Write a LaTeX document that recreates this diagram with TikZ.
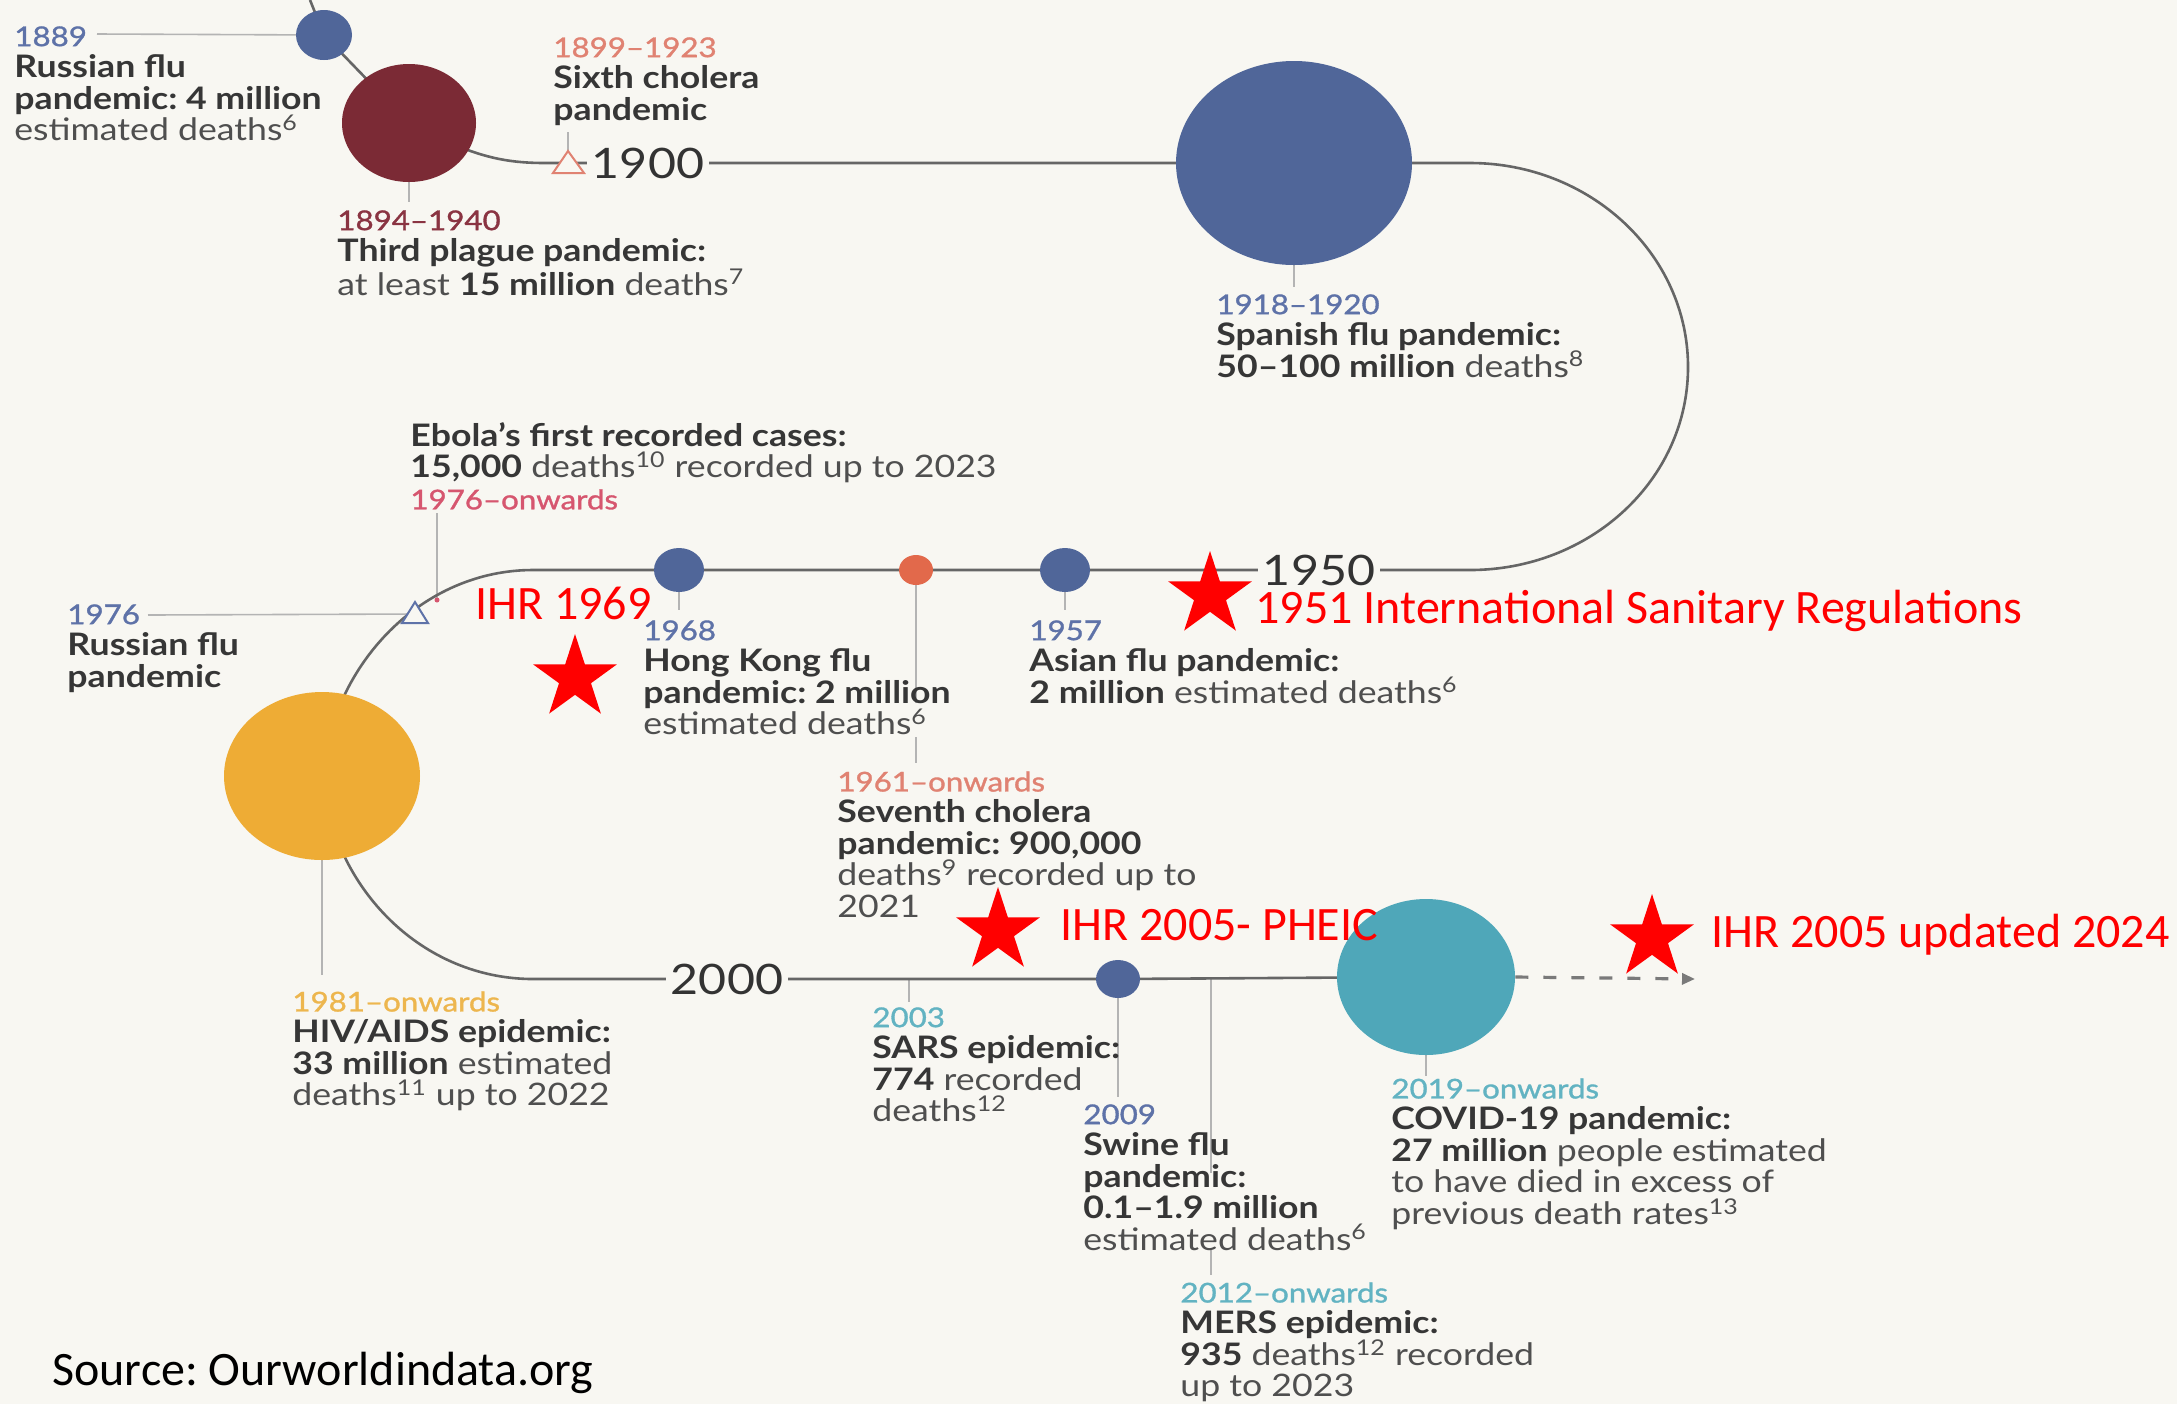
\documentclass[tikz,border=0pt]{standalone}
\usepackage{fontspec}
\setmainfont{Lato}[FakeStretch=1.15]
\newfontfamily\yrfont{Lato}[FakeStretch=1.15, FakeBold=1.2]
\newfontfamily\calfont{Carlito}
\usetikzlibrary{shapes.geometric,arrows.meta}
\pgfdeclarelayer{back}
\pgfdeclarelayer{bg}
\pgfsetlayers{back,bg,main}
\definecolor{bgC}{HTML}{F8F7F2}
\definecolor{lineC}{HTML}{666666}
\definecolor{stemC}{HTML}{B4B4B4}
\definecolor{txtC}{HTML}{4F4F4F}
\definecolor{boldC}{HTML}{363636}
\definecolor{yearC}{HTML}{333333}
\definecolor{blueT}{HTML}{5E72A8}
\definecolor{plagueT}{HTML}{8A3442}
\definecolor{salmonT}{HTML}{E08272}
\definecolor{pinkT}{HTML}{D6566F}
\definecolor{yellowT}{HTML}{EDB64E}
\definecolor{tealT}{HTML}{62B3C2}
\definecolor{blueC}{HTML}{506699}
\definecolor{plagueC}{HTML}{7B2A35}
\definecolor{choleraC}{HTML}{E2694B}
\definecolor{hivC}{HTML}{EEAC35}
\definecolor{covidC}{HTML}{4FA7B9}
\definecolor{starC}{HTML}{FF0000}
\definecolor{dashC}{HTML}{7A7A7A}
\frenchspacing
\newcommand{\yr}[2]{{\color{#1}\yrfont\fontsize{13.6}{15.75}\selectfont #2}}
\newcommand{\bt}[1]{{\color{boldC}\bfseries #1}}
\newcommand{\sups}[1]{\textsuperscript{#1}}
\tikzset{
 tl/.style={draw=lineC, line width=1.3pt},
 stemline/.style={draw=stemC, line width=0.8pt},
 blob/.style={ellipse, inner sep=0pt, draw=none},
 lab/.style={anchor=north west, inner sep=0pt, align=left, font=\fontsize{15.5}{15.75}\selectfont, text=txtC},
 bigyear/.style={font=\fontsize{21}{21}\selectfont, text=yearC, fill=bgC, inner xsep=2.5pt, inner ysep=0pt},
 redstar/.style={star, star points=5, star point ratio=2.618, fill=starC, draw=none, inner sep=0pt, minimum size=44pt},
 redtext/.style={anchor=base west, inner sep=0pt, text=starC, font=\calfont\fontsize{24}{28}\selectfont},
 tri/.style={fill=bgC, line width=1pt, line join=miter},
}
\begin{document}
\begin{tikzpicture}[x=0.5pt, y=-0.5pt]
\begin{pgfonlayer}{back}
\fill[bgC] (0,0) rectangle (2177,1404);
\end{pgfonlayer}
\useasboundingbox (0,0) rectangle (2177,1404);

% circles
\node[blob, fill=blueC, minimum width=28pt, minimum height=25pt] (c1889) at (324,35) {};
\node[blob, fill=plagueC, minimum width=67pt, minimum height=59pt] (plague) at (409,123) {};
\node[blob, fill=blueC, minimum width=118pt, minimum height=102pt] (spanish) at (1294,163) {};
\node[blob, fill=blueC, minimum width=25pt, minimum height=22pt] (hk) at (679,570) {};
\node[blob, fill=choleraC, minimum width=17pt, minimum height=15pt] (ch7) at (916,570) {};
\node[blob, fill=blueC, minimum width=25pt, minimum height=22pt] (asian) at (1065,570) {};
\node[blob, fill=hivC, minimum width=98pt, minimum height=84pt] (hiv) at (322,776) {};
\node[blob, fill=blueC, minimum width=22pt, minimum height=19pt] (swine) at (1118,979) {};
\node[blob, fill=covidC, minimum width=89pt, minimum height=78pt] (covid) at (1426,977) {};

% big years
\node[bigyear] (y1900) at (648,163) {1900};
\node[bigyear] (y1950) at (1319,570) {1950};
\node[bigyear] (y2000) at (727,979) {2000};

% coordinates
\coordinate (t0) at (310,0);
\coordinate (t1900) at (568,163);
\coordinate (t1976) at (415,614);
\coordinate (ebolaDot) at (437,600);
\coordinate (arrowEnd) at (1695,979);

% triangles
\draw[tri, draw=salmonT] (t1900) ++(-15,10) -- ++(31,0) -- ++(-16,-22) -- cycle;
\draw[tri, draw=blueT] (t1976) ++(-13,9) -- ++(26,0) -- ++(-13,-21) -- cycle;

% labels
\node[lab] (L1889) at (14,26) {\yr{blueT}{1889}\\ \bt{Russian flu}\\ \bt{pandemic: 4 million}\\ estimated deaths\sups{6}};
\node[lab] (L1894) at (337,210) {\yr{plagueT}{1894–1940}\\ \bt{Third plague pandemic:}\\ at least \bt{15 million} deaths\sups{7}};
\node[lab] (L1899) at (553,37) {\yr{salmonT}{1899–1923}\\ \bt{Sixth cholera}\\ \bt{pandemic}};
\node[lab] (L1918) at (1216,294) {\yr{blueT}{1918–1920}\\ \bt{Spanish flu pandemic:}\\ \bt{50–100 million} deaths\sups{8}};
\node[lab] (Lebola) at (410,422) {\bt{Ebola’s first recorded cases:}\\ \bt{15,000} deaths\sups{10} recorded up to 2023\\ \yr{pinkT}{1976–onwards}};
\node[lab] (L1976) at (67,604) {\yr{blueT}{1976}\\ \bt{Russian flu}\\ \bt{pandemic}};
\node[lab] (L1968) at (643,620) {\yr{blueT}{1968}\\ \bt{Hong Kong flu}\\ \bt{pandemic: 2 million}\\ estimated deaths\sups{6}};
\node[lab] (L1957) at (1029,620) {\yr{blueT}{1957}\\ \bt{Asian flu pandemic:}\\ \bt{2 million} estimated deaths\sups{6}};
\node[lab] (L1961) at (837,771) {\yr{salmonT}{1961–onwards}\\ \bt{Seventh cholera}\\ \bt{pandemic: 900,000}\\ deaths\sups{9} recorded up to\\ 2021};
\node[lab] (L1981) at (292,991) {\yr{yellowT}{1981–onwards}\\ \bt{HIV/AIDS epidemic:}\\ \bt{33 million} estimated\\ deaths\sups{11} up to 2022};
\node[lab] (L2003) at (872,1007) {\yr{tealT}{2003}\\ \bt{SARS epidemic:}\\ \bt{774} recorded\\ deaths\sups{12}};
\node[lab] (L2009) at (1083,1104) {\yr{blueT}{2009}\\ \bt{Swine flu}\\ \bt{pandemic:}\\ \bt{0.1–1.9 million}\\ estimated deaths\sups{6}};
\node[lab] (L2012) at (1180,1282) {\yr{tealT}{2012–onwards}\\ \bt{MERS epidemic:}\\ \bt{935} deaths\sups{12} recorded\\ up to 2023};
\node[lab] (L2019) at (1391,1078) {\yr{tealT}{2019–onwards}\\ \bt{COVID-19 pandemic:}\\ \bt{27 million} people estimated\\ to have died in excess of\\ previous death rates\sups{13}};

% stems (free ends as named coordinates)
\coordinate (s1889) at (97,34);
\coordinate (s1894) at (409,202);
\coordinate (s1899) at (568,132);
\coordinate (s1918) at (1294,287);
\coordinate (sEbola) at (437,513);
\coordinate (s1976) at (148,615);
\coordinate (s1968) at (679,610);
\coordinate (s1961a) at (916,703);
\coordinate (s1961b) at (916,737);
\coordinate (s1961c) at (916,763);
\coordinate (s1957) at (1065,610);
\coordinate (s1981) at (322,975);
\coordinate (sSarsTop) at (909,979);
\coordinate (sSars) at (909,1002);
\coordinate (s2009) at (1118,1097);
\coordinate (sMersTop) at (1211,979);
\coordinate (sMersA) at (1211,1173);
\coordinate (sMersB) at (1211,1250);
\coordinate (sMersC) at (1211,1275);
\coordinate (s2019) at (1426,1076);

\begin{pgfonlayer}{bg}
\draw[stemline] (s1889) -- (c1889.center);
\draw[stemline] (plague.center) -- (s1894);
\draw[stemline] (t1900) -- (s1899);
\draw[stemline] (spanish.center) -- (s1918);
\draw[stemline] (sEbola) -- (ebolaDot);
\draw[stemline] (s1976) -- (t1976);
\draw[stemline] (hk.center) -- (s1968);
\draw[stemline] (ch7.center) -- (s1961a);
\draw[stemline] (s1961b) -- (s1961c);
\draw[stemline] (asian.center) -- (s1957);
\draw[stemline] (hiv.center) -- (s1981);
\draw[stemline] (sSarsTop) -- (sSars);
\draw[stemline] (swine.center) -- (s2009);
\draw[stemline] (sMersTop) -- (sMersA);
\draw[stemline] (sMersB) -- (sMersC);
\draw[stemline] (covid.center) -- (s2019);
% main timeline
\draw[tl] (t0) -- (c1889.center) -- (plague.center)
  .. controls (470,155) and (500,163) .. (545,163) -- (t1900) -- (y1900.center) -- (spanish.center)
  -- (1470,163) .. controls (1590,163) and (1688,254) .. (1688,367)
  .. controls (1688,480) and (1590,570) .. (1470,570) -- (y1950.center) -- (asian.center)
  -- (ch7.center) -- (hk.center) -- (533,570) .. controls (423,570) and (333,662) .. (hiv.center)
  .. controls (333,890) and (423,979) .. (533,979) -- (y2000.center) -- (swine.center) -- (covid.center);
\end{pgfonlayer}
\fill[pinkT] (ebolaDot) circle (2.5);
\draw[dashC, line width=1.6pt, dash pattern=on 6.5pt off 7.5pt, -{Triangle[length=6.5pt, width=5.5pt]}] (covid.east) -- (arrowEnd);

% red annotations
\node[redstar] (st1969) at (575,678) {};
\node[redstar] (st1951) at (1210,595) {};
\node[redstar] (stPheic) at (998,931) {};
\node[redstar] (st2024) at (1652,938) {};
\node[redtext] (ihr1969) at (475,619) {IHR 1969};
\node[redtext] (isr1951) at (1255,623) {1951 International Sanitary Regulations};
\node[redtext] (ihrPheic) at (1060,940) {IHR 2005- PHEIC};
\node[redtext] (ihr2024) at (1711,947) {IHR 2005 updated 2024};
\node[redtext, text=black] (source) at (52,1385) {Source: Ourworldindata.org};
\end{tikzpicture}
\end{document}
